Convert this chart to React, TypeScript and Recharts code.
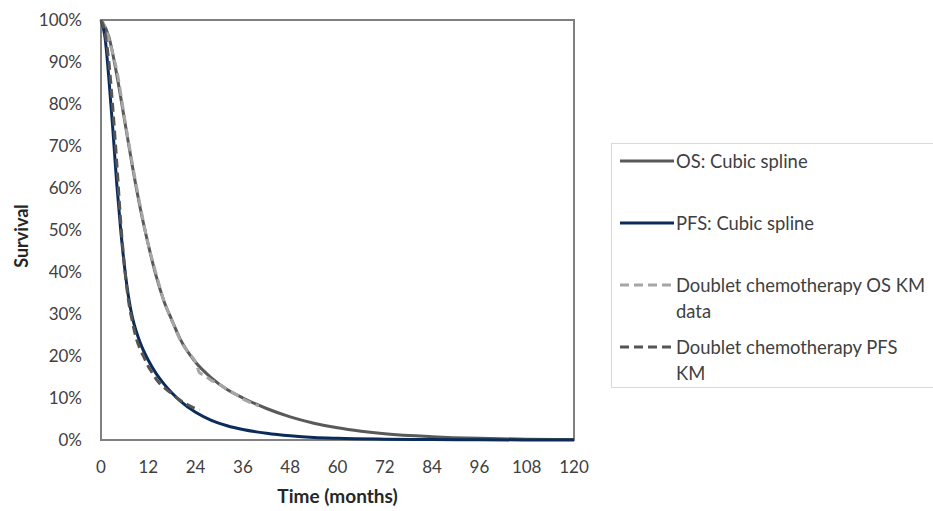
import React from 'react'
import { LineChart, Line, XAxis, YAxis, Legend, ReferenceArea, Label } from 'recharts'

// Time in months, survival in %
const osTime = [0, 2, 4, 6, 8, 10, 12, 14, 16, 18, 20, 24, 28, 32, 36, 42, 48, 54, 60, 66, 72, 84, 96, 108, 120]
const osSpline = [100, 96, 87, 76, 65, 55, 46.5, 39, 33, 28.5, 24.2, 18.5, 14.8, 12, 10, 7.5, 5.5, 4, 2.9, 2.1, 1.5, 0.8, 0.4, 0.2, 0.1]

const pfsTime = [0, 1, 2, 3, 4, 5, 6, 7, 8, 9, 10, 12, 14, 16, 18, 20, 24, 28, 32, 36, 42, 48, 54, 60, 72, 84, 96, 120]
const pfsSpline = [100, 96, 86, 74, 61, 50, 41, 34, 29, 25.7, 23, 19, 15.8, 13.3, 11.2, 9.4, 6.6, 4.7, 3.4, 2.5, 1.6, 1.0, 0.6, 0.4, 0.2, 0.1, 0.05, 0]

const osKmTime = [0, 1, 2, 3, 4, 6, 8, 10, 12, 14, 16, 18, 20, 22, 24, 25, 26, 28, 30, 32, 34, 36, 38, 40]
const osKm = [100, 98.5, 95.5, 92, 88, 76.5, 65.5, 55.5, 46.5, 39.5, 33, 28.5, 24, 21, 18.5, 16, 15.5, 14.2, 13.3, 12, 11, 9.8, 8.9, 8.1]

const pfsKmTime = [0, 1, 2, 3, 4, 5, 6, 7, 8, 9, 10, 11, 12, 13, 14, 16, 18, 20, 22, 24, 25]
const pfsKm = [100, 97, 90, 79, 66, 52, 41, 33, 28, 24, 21.5, 19.5, 17.5, 16, 14.5, 12.5, 11, 9.5, 8.4, 7.5, 7.2]

const xTicks = [0, 12, 24, 36, 48, 60, 72, 84, 96, 108, 120]
const yTicks = [0, 10, 20, 30, 40, 50, 60, 70, 80, 90, 100]

const FONT = 'Lato, "Open Sans", sans-serif'
const TEXT = '#404040'

const toPoints = (t: number[], v: number[]) => t.map((time, i) => ({ time, value: v[i] }))

const series = [
  { key: 'os', name: 'OS: Cubic spline', data: toPoints(osTime, osSpline), color: '#595959', dash: undefined as string | undefined },
  { key: 'pfs', name: 'PFS: Cubic spline', data: toPoints(pfsTime, pfsSpline), color: '#0b2c5a', dash: undefined },
  { key: 'osKm', name: 'Doublet chemotherapy OS KM data', data: toPoints(osKmTime, osKm), color: '#a6a6a6', dash: '9 5' },
  { key: 'pfsKm', name: 'Doublet chemotherapy PFS KM', data: toPoints(pfsKmTime, pfsKm), color: '#555555', dash: '9 5' },
]

const renderLegend = () => (
  <div
    style={{
      position: 'relative',
      width: 322,
      height: 245,
      border: '1px solid #d9d9d9',
      borderRight: 'none',
      boxSizing: 'border-box',
      fontFamily: FONT,
      fontSize: 18.4,
      color: TEXT,
    }}
  >
    {series.map((s, i) => (
      <div key={s.key} style={{ position: 'absolute', left: 7, top: 4 + i * 62, display: 'flex', alignItems: 'flex-start' }}>
        <svg width={56} height={26}>
          <line x1={1} x2={55} y1={13} y2={13} stroke={s.color} strokeWidth={3} strokeDasharray={s.dash} />
        </svg>
        <div style={{ width: 252, lineHeight: '26px', marginLeft: 1 }}>{s.name}</div>
      </div>
    ))}
  </div>
)

export default function App() {
  return (
    <div style={{ width: 933, height: 511, overflow: 'hidden', background: '#fff' }}>
      <style>{'body{margin:0}'}</style>
      <LineChart width={933} height={511} margin={{ top: 20, right: 359, bottom: 0, left: 0 }}>
        <XAxis
          type="number"
          dataKey="time"
          domain={[0, 120]}
          ticks={xTicks}
          height={71}
          axisLine={false}
          tickLine={false}
          tickSize={0}
          tickMargin={21}
          tick={{ fontFamily: FONT, fontSize: 17, fill: TEXT }}
        >
          <Label
            content={() => (
              <text x={337.5} y={503} textAnchor="middle" fontFamily={FONT} fontSize={19} fontWeight="bold" fill="#262626">
                Time (months)
              </text>
            )}
          />
        </XAxis>
        <YAxis
          type="number"
          domain={[0, 100]}
          ticks={yTicks}
          width={101}
          axisLine={false}
          tickLine={false}
          tickSize={0}
          tickMargin={19}
          tickFormatter={(v: number) => `${v}%`}
          tick={{ fontFamily: FONT, fontSize: 17, fill: TEXT }}
        >
          <Label
            content={() => (
              <text
                x={28}
                y={236}
                transform="rotate(-90 28 236)"
                textAnchor="middle"
                fontFamily={FONT}
                fontSize={18}
                fontWeight="bold"
                fill="#262626"
              >
                Survival
              </text>
            )}
          />
        </YAxis>
        <ReferenceArea x1={0} x2={120} y1={0} y2={100} fill="none" stroke="#808080" strokeWidth={2} />
        {series.map((s) => (
          <Line
            key={s.key}
            data={s.data}
            dataKey="value"
            name={s.name}
            type="monotone"
            stroke={s.color}
            strokeWidth={3}
            strokeDasharray={s.dash}
            dot={false}
            activeDot={false}
            isAnimationActive={false}
          />
        ))}
        <Legend
          layout="horizontal"
          verticalAlign="middle"
          align="center"
          content={renderLegend}
          wrapperStyle={{ left: 611, top: 143, width: 322, height: 245 }}
        />
      </LineChart>
    </div>
  )
}
